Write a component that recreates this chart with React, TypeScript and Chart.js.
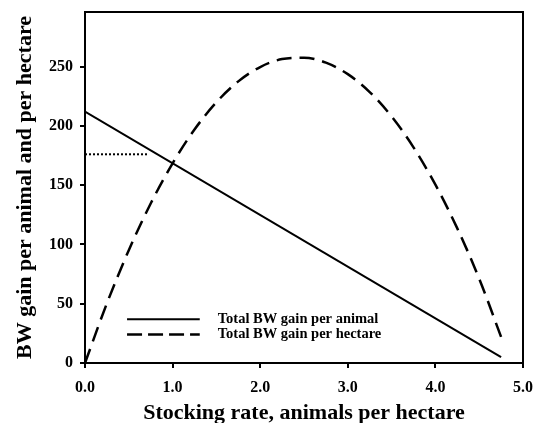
import React, { useEffect, useRef } from "react";
import { Chart, registerables } from "chart.js";

Chart.register(...registerables);

// Total BW gain per hectare (dashed curve)
const hectareX = [0, 0.25, 0.5, 0.75, 1.0, 1.25, 1.5, 1.75, 2.0, 2.25, 2.5, 2.75, 3.0, 3.25, 3.5, 3.75, 4.0, 4.25, 4.5, 4.75];
const hectareY = [0, 50.3, 95.1, 134.5, 168.4, 196.9, 219.9, 237.5, 249.6, 256.3, 257.5, 253.3, 243.6, 228.5, 207.9, 181.9, 150.4, 113.5, 71.1, 22];

// Total BW gain per animal (solid line)
const animalX = [0, 4.75];
const animalY = [212, 5];

// Dotted reference line
const refX = [0, 0.72];
const refY = [176, 176];

const xTicks = [0, 1, 2, 3, 4, 5];
const yTicks = [0, 50, 100, 150, 200, 250];

const legendLabels = ["Total BW gain per animal", "Total BW gain per hectare"];

const serif = "'Liberation Serif', 'Times New Roman', serif";

function zip(xs: number[], ys: number[]) {
  return xs.map((x, i) => ({ x, y: ys[i] }));
}

const framePlugin = {
  id: "frame",
  afterDraw(chart: any) {
    const { ctx, chartArea } = chart;
    ctx.save();
    ctx.strokeStyle = "#000";
    ctx.lineWidth = 2;
    ctx.strokeRect(chartArea.left, chartArea.top, chartArea.right - chartArea.left, chartArea.bottom - chartArea.top);
    // legend
    const xs = chart.scales.x;
    const ys = chart.scales.y;
    const lx0 = xs.getPixelForValue(0.48);
    const lx1 = xs.getPixelForValue(1.31);
    const rows = [ys.getPixelForValue(37), ys.getPixelForValue(24)];
    ctx.font = `bold 14.5px ${serif}`;
    ctx.fillStyle = "#000";
    ctx.textBaseline = "middle";
    rows.forEach((yy: number, i: number) => {
      ctx.beginPath();
      ctx.lineWidth = i === 0 ? 2 : 2.5;
      ctx.setLineDash(i === 0 ? [] : [15, 6]);
      ctx.moveTo(lx0, yy);
      ctx.lineTo(lx1, yy);
      ctx.stroke();
      ctx.setLineDash([]);
      ctx.fillText(legendLabels[i], lx1 + 18, yy);
    });
    ctx.restore();
  },
};

export default function App() {
  const ref = useRef<HTMLCanvasElement>(null);
  useEffect(() => {
    if (!ref.current) return;
    const chart = new Chart(ref.current, {
      type: "line",
      data: {
        datasets: [
          {
            label: legendLabels[0],
            data: zip(animalX, animalY),
            borderColor: "#000",
            borderWidth: 2,
            pointRadius: 0,
            fill: false,
          },
          {
            label: legendLabels[1],
            data: zip(hectareX, hectareY),
            borderColor: "#000",
            borderWidth: 2.5,
            borderDash: [15, 8],
            pointRadius: 0,
            tension: 0.4,
            cubicInterpolationMode: "monotone",
            fill: false,
          },
          {
            label: "ref",
            data: zip(refX, refY),
            borderColor: "#000",
            borderWidth: 2,
            borderDash: [2, 2],
            pointRadius: 0,
            fill: false,
          },
        ],
      },
      options: {
        animation: false,
        responsive: false,
        maintainAspectRatio: false,
        layout: { padding: { top: 12, right: 19, left: 0, bottom: 0 } },
        plugins: { legend: { display: false }, tooltip: { enabled: false } },
        scales: {
          x: {
            type: "linear",
            min: 0,
            max: 5,
            afterBuildTicks: (s: any) => {
              s.ticks = xTicks.map((v) => ({ value: v }));
            },
            afterFit: (s: any) => {
              s.height = 60;
              s.paddingLeft = 0;
              s.paddingRight = 0;
            },
            ticks: {
              color: "#000",
              font: { family: serif, size: 16, weight: "bold" },
              callback: (v: any) => Number(v).toFixed(1),
              padding: 10,
              maxRotation: 0,
            },
            grid: { display: true, drawOnChartArea: false, drawTicks: true, tickLength: 5, color: "#000", lineWidth: 2 },
            border: { display: true, color: "#000", width: 2 },
            title: {
              display: true,
              text: "Stocking rate, animals per hectare",
              color: "#000",
              font: { family: serif, size: 22, weight: "bold" },
              padding: { top: 0, bottom: -4 },
            },
          },
          y: {
            type: "linear",
            min: 0,
            max: 296,
            afterBuildTicks: (s: any) => {
              s.ticks = yTicks.map((v) => ({ value: v }));
            },
            afterFit: (s: any) => {
              s.width = 85;
              s.paddingTop = 0;
              s.paddingBottom = 0;
            },
            ticks: {
              color: "#000",
              font: { family: serif, size: 16, weight: "bold" },
              padding: 7,
            },
            grid: { display: true, drawOnChartArea: false, drawTicks: true, tickLength: 5, color: "#000", lineWidth: 2 },
            border: { display: true, color: "#000", width: 2 },
            title: {
              display: true,
              text: "BW gain per animal and per hectare",
              color: "#000",
              font: { family: serif, size: 22, weight: "bold" },
              padding: { top: 12.5, bottom: 0 },
            },
          },
        },
      },
      plugins: [framePlugin],
    });
    return () => chart.destroy();
  }, []);
  return (
    <div style={{ position: "fixed", left: 0, top: 0, width: 542, height: 423, background: "#fff" }}>
      <canvas ref={ref} width={542} height={423} style={{ width: 542, height: 423 }} />
    </div>
  );
}
